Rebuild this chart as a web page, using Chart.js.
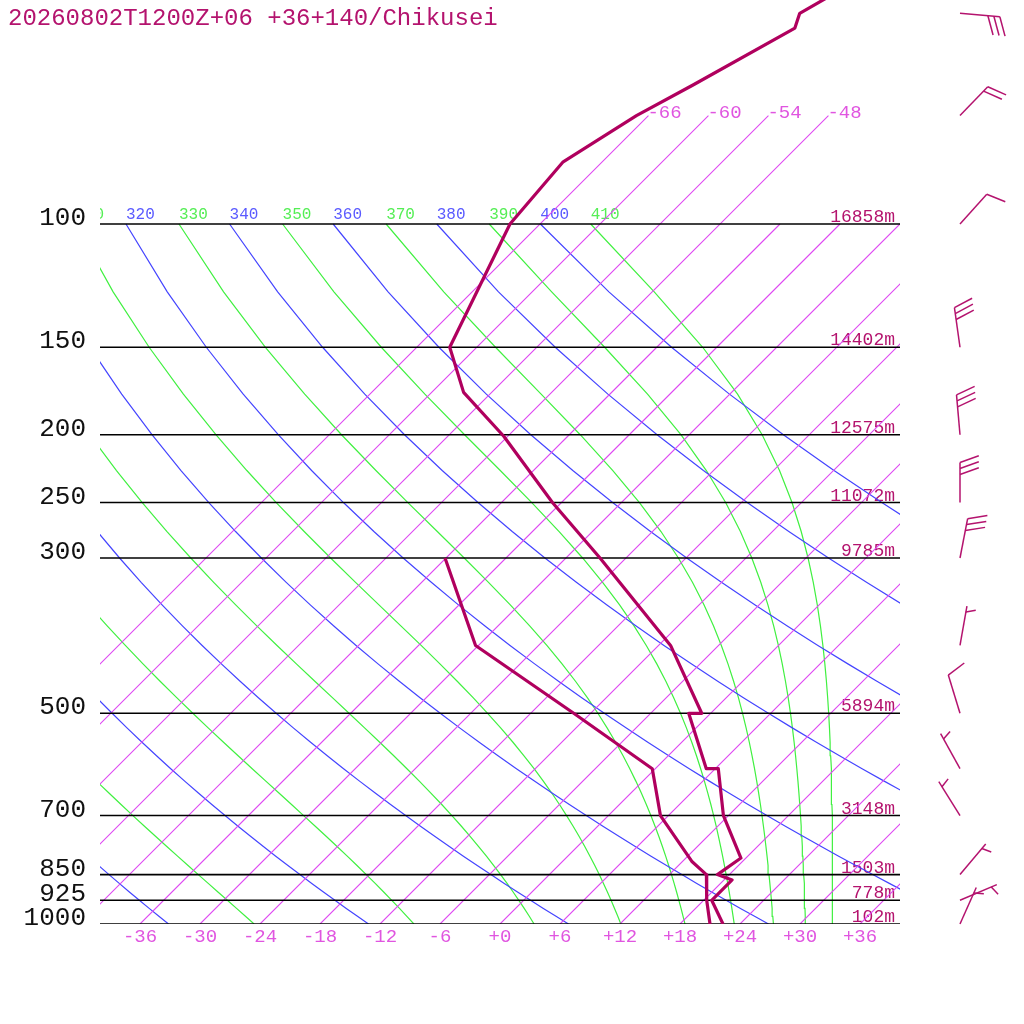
<!DOCTYPE html>
<html><head><meta charset="utf-8">
<script src="https://cdn.jsdelivr.net/npm/chart.js@4/dist/chart.umd.min.js"></script>
<style>html,body{margin:0;padding:0;background:#fff;}#wrap{width:1024px;height:1024px;}</style>
</head><body><div id="wrap"><canvas id="c" width="1024" height="1024"></canvas></div>
<script>
// ---- data ----
const titleText = '20260802T1200Z+06 +36+140/Chikusei';
const tempP = [40, 50, 52.5, 63.3, 70, 81.5, 100, 150, 174, 201, 250, 300, 400, 500, 500, 600, 600, 700, 805, 850, 865, 925, 1000];
const tempT = [-56, -61.1, -60.1, -64.6, -67.2, -69.9, -69.0, -62.7, -56.8, -48.4, -36.9, -26.6, -10.8, -0.9, -2.2, 5.1, 6.3, 11.5, 17.5, 16.8, 18.8, 18.8, 22.3];
const dewP = [300, 400, 500, 600, 700, 815, 850, 925, 1000];
const dewT = [-42.1, -30.3, -13.7, -0.3, 5.2, 13.0, 15.7, 18.3, 21.0];
const levels = [100, 150, 200, 250, 300, 500, 700, 850, 925, 1000];
const heights = ['16858m', '14402m', '12575m', '11072m', '9785m', '5894m', '3148m', '1503m', '778m', '102m'];
const windP = [50, 70, 100, 150, 200, 250, 300, 400, 500, 600, 700, 850, 925, 1000];
const windDir = [95, 44, 42, 352, 355, 0, 11, 10, 343, 331, 328, 40, 67, 24];
const windKt = [30, 20, 10, 30, 30, 30, 30, 5, 10, 5, 5, 5, 5, 5];
const xTickT = [-36, -30, -24, -18, -12, -6, 0, 6, 12, 18, 24, 30, 36];
const xTickLabels = ['-36', '-30', '-24', '-18', '-12', '-6', '+0', '+6', '+12', '+18', '+24', '+30', '+36'];
const isoUpper = [-66, -60, -54, -48];           // isotherms reaching 70 hPa (labelled)
const isoLower = [-42, -36, -30, -24, -18, -12, -6, 0, 6, 12, 18, 24, 30, 36];
const dryTheta = [240, 260, 280, 300, 320, 340, 360, 380, 400];
const moistThetaE = [250, 270, 290, 310, 330, 350, 370, 390, 410];
const adiabatP = [1000, 975, 950, 925, 900, 875, 850, 825, 800, 775, 750, 725, 700, 675, 650, 625, 600, 575, 550, 525, 500, 475, 450, 425, 400, 375, 350, 325, 300, 275, 250, 225, 200, 175, 150, 125, 100];

// ---- thermodynamic helpers (skew-T background) ----
const SKEW = 70;                 // deg per decade of pressure
const skew = (T, p) => T + SKEW * Math.log10(1000 / p);
const KAPPA = 0.2857;
const dryT = (th, p) => th * Math.pow(p / 1000, KAPPA) - 273.15;
function thetaE(Tk, p) {
  const Tc = Tk - 273.15;
  const e = 6.112 * Math.exp(17.67 * Tc / (Tc + 243.5));
  if (e > 0.5 * p) return 1e9;
  const r = 622 * e / (p - e);
  return Tk * Math.pow(1000 / p, 0.2854 * (1 - 0.00028 * r)) * Math.exp((3.376 / Tk - 0.00254) * r * (1 + 0.00081 * r));
}
function moistT(te, p) {
  let lo = 100, hi = 340;
  for (let i = 0; i < 60; i++) { const m = (lo + hi) / 2; if (thetaE(m, p) > te) hi = m; else lo = m; }
  return (lo + hi) / 2 - 273.15;
}

const C = {
  trace: 'rgb(176,0,94)', text: 'rgb(180,19,110)', tick: 'rgb(224,85,224)', iso: 'rgb(222,72,242)',
  blue: 'rgb(68,68,255)', green: 'rgb(64,240,64)', blueLab: 'rgb(90,90,255)', greenLab: 'rgb(85,238,85)', black: 'rgb(0,0,0)'
};
const FONT = '"Liberation Mono", "DejaVu Sans Mono", monospace';

function lineDs(points, color, width) {
  return { data: points, borderColor: color, backgroundColor: color, borderWidth: width,
    showLine: true, pointRadius: 0, pointHoverRadius: 0, fill: false, tension: 0 };
}

const datasets = [];
datasets.push(Object.assign(lineDs(tempP.map((p, i) => ({ x: skew(tempT[i], p), y: p })), C.trace, 3.2), { borderJoinStyle: 'round' }));
datasets.push(Object.assign(lineDs(dewP.map((p, i) => ({ x: skew(dewT[i], p), y: p })), C.trace, 3.2), { borderJoinStyle: 'round' }));
levels.forEach(p => datasets.push(lineDs([{ x: -40, y: p }, { x: 40, y: p }], C.black, 1.6)));
isoUpper.forEach(T => datasets.push(lineDs([{ x: skew(T, 1000), y: 1000 }, { x: skew(T, 70), y: 70 }], C.iso, 1.1)));
isoLower.forEach(T => datasets.push(lineDs([{ x: skew(T, 1000), y: 1000 }, { x: skew(T, 100), y: 100 }], C.iso, 1.1)));
dryTheta.forEach(th => datasets.push(lineDs(adiabatP.map(p => ({ x: skew(dryT(th, p), p), y: p })), C.blue, 1.2)));
moistThetaE.forEach(te => datasets.push(lineDs(adiabatP.map(p => ({ x: skew(moistT(te, p), p), y: p })), C.green, 1.2)));

const textPlugin = {
  id: 'skewText',
  beforeDatasetsDraw(chart) {
    const ctx = chart.ctx, xs = chart.scales.x, ys = chart.scales.y, a = chart.chartArea;
    ctx.save();
    ctx.beginPath(); ctx.rect(a.left, a.top, a.right - a.left, a.bottom - a.top); ctx.clip();
    ctx.font = '16px ' + FONT; ctx.textAlign = 'left'; ctx.textBaseline = 'alphabetic';
    const y100 = ys.getPixelForValue(100);
    dryTheta.forEach(th => { ctx.fillStyle = C.blueLab; ctx.fillText(String(th), xs.getPixelForValue(skew(dryT(th, 100), 100)), y100 - 5); });
    moistThetaE.forEach(te => { ctx.fillStyle = C.greenLab; ctx.fillText(String(te), xs.getPixelForValue(skew(moistT(te, 100), 100)), y100 - 5); });
    ctx.font = '19px ' + FONT; ctx.fillStyle = C.tick;
    const y70 = ys.getPixelForValue(70);
    isoUpper.forEach(T => ctx.fillText(String(T), xs.getPixelForValue(skew(T, 70)) - 1, y70 + 2));
    ctx.restore();

    ctx.save();
    ctx.textBaseline = 'alphabetic';
    ctx.font = '24px ' + FONT; ctx.fillStyle = C.text; ctx.textAlign = 'left';
    ctx.fillText(titleText, 8, 25);
    ctx.font = '26px ' + FONT; ctx.fillStyle = '#111'; ctx.textAlign = 'right';
    levels.forEach(p => ctx.fillText(String(p), 86, ys.getPixelForValue(p) + 1));
    ctx.font = '18px ' + FONT; ctx.fillStyle = C.text; ctx.textAlign = 'right';
    levels.forEach((p, i) => ctx.fillText(heights[i], 895, ys.getPixelForValue(p) - 2));
    ctx.font = '19px ' + FONT; ctx.fillStyle = C.tick; ctx.textAlign = 'center';
    xTickT.forEach((T, i) => ctx.fillText(xTickLabels[i], xs.getPixelForValue(skew(T, 1000)), 942));
    ctx.restore();
  },
  afterDatasetsDraw(chart) {
    const ctx = chart.ctx, ys = chart.scales.y;
    ctx.save();
    ctx.strokeStyle = C.text; ctx.lineWidth = 1.5; ctx.lineCap = 'butt';
    const BX = 960, L = 40, SP = 6, ang = 70 * Math.PI / 180;
    windP.forEach((p, i) => {
      const d = windDir[i] * Math.PI / 180;
      const ux = Math.sin(d), uy = -Math.cos(d);
      const by = ys.getPixelForValue(p);
      const tx = BX + L * ux, ty = by + L * uy;
      ctx.beginPath(); ctx.moveTo(BX, by); ctx.lineTo(tx, ty); ctx.stroke();
      const fx = ux * Math.cos(ang) - uy * Math.sin(ang), fy = ux * Math.sin(ang) + uy * Math.cos(ang);
      const kt = windKt[i];
      const full = Math.floor(kt / 10), half = (kt % 10) >= 5 ? 1 : 0;
      let k = 0;
      const feather = (len) => {
        const sx = tx - k * SP * ux, sy = ty - k * SP * uy;
        ctx.beginPath(); ctx.moveTo(sx, sy); ctx.lineTo(sx + len * fx, sy + len * fy); ctx.stroke();
        k++;
      };
      for (let j = 0; j < full; j++) feather(20);
      if (half) { if (full === 0) k = 1; feather(10); }
    });
    ctx.restore();
  }
};

new Chart(document.getElementById('c'), {
  type: 'scatter',
  data: { datasets },
  options: {
    responsive: false, animation: false, devicePixelRatio: 1, events: [],
    layout: { padding: { left: 100, right: 124, top: 0, bottom: 100 } },
    scales: {
      x: { type: 'linear', min: -40, max: 40, display: false, bounds: 'data' },
      y: { type: 'logarithmic', min: 1000 / Math.pow(10, 924 / 700), max: 1000, reverse: true, display: false, bounds: 'data' }
    },
    plugins: { legend: { display: false }, tooltip: { enabled: false }, colors: { enabled: false } }
  },
  plugins: [textPlugin]
});
</script></body></html>
